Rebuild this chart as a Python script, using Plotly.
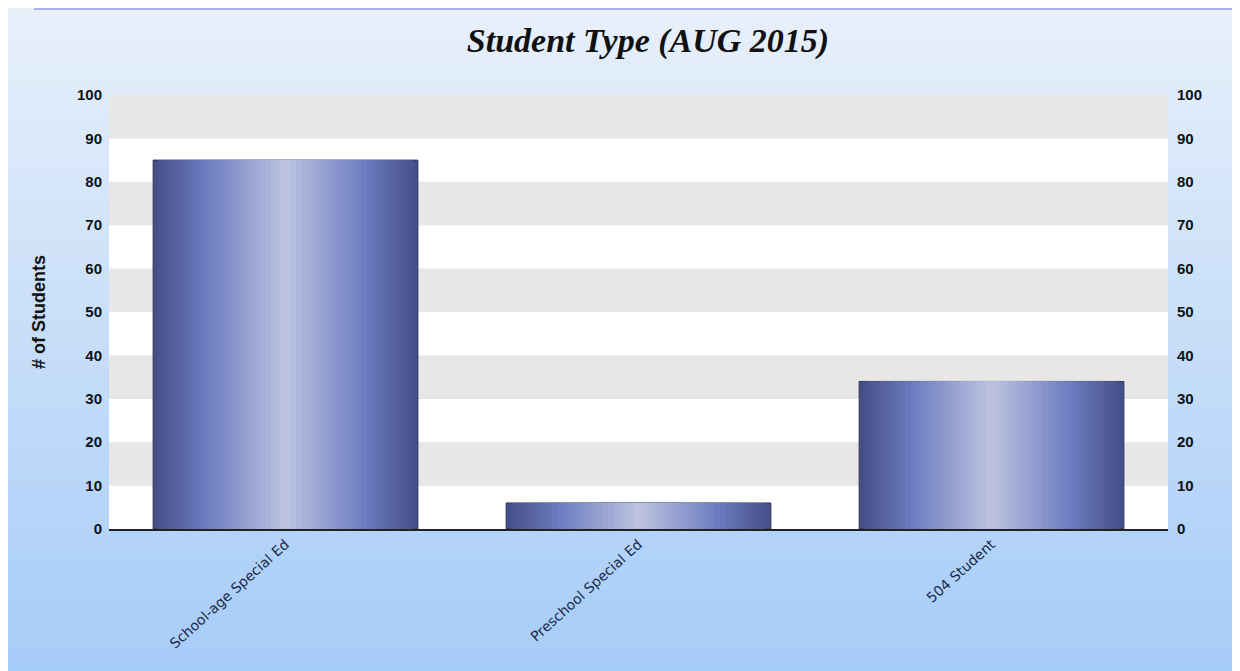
import plotly.graph_objects as go

categories = ["School-age Special Ed", "Preschool Special Ed", "504 Student"]
students = [85, 6, 34]
tick_vals = [0, 10, 20, 30, 40, 50, 60, 70, 80, 90, 100]

title_text = "Student Type (AUG 2015)"
y_title = "# of Students"


def lerp(c1, c2, t):
    return tuple(round(a + (b - a) * t) for a, b in zip(c1, c2))


def rgb(c):
    return "rgb(%d,%d,%d)" % c


fig = go.Figure()

# cylinder-like bars: stacked overlays, narrowing toward a light center
edge = (70, 80, 136)
mid = (108, 124, 192)
center = (186, 194, 224)
n_layers = 26
full_w = 0.75
for k in range(n_layers):
    t = k / (n_layers - 1)
    w = full_w * (1 - t * 0.96)
    if t < 0.4:
        col = lerp(edge, mid, t / 0.4)
    else:
        col = lerp(mid, center, (t - 0.4) / 0.6)
    fig.add_trace(go.Bar(
        x=categories, y=students, width=w,
        marker=dict(color=rgb(col),
                    line=dict(color="#2e3560" if k == 0 else rgb(col), width=1 if k == 0 else 0)),
        showlegend=False, hoverinfo="skip" if k else None,
    ))

# invisible trace for the right axis
fig.add_trace(go.Scatter(x=categories, y=students, yaxis="y2", mode="markers",
                         marker=dict(opacity=0), showlegend=False, hoverinfo="skip"))

W, H = 1232, 663
ml, mr, mt, mb = 101, 72, 87, 142
pw, ph = W - ml - mr, H - mt - mb

shapes = []
# background gradient (paper)
n_strips = 80
top_c = (232, 240, 250)
bot_c = (166, 204, 248)
y_lo, y_hi = -mb / ph, 1 + mt / ph
for i in range(n_strips):
    t0 = i / n_strips
    t1 = (i + 1) / n_strips
    col = lerp(top_c, bot_c, (t0 + t1) / 2)
    shapes.append(dict(type="rect", xref="paper", yref="paper", layer="below",
                       x0=-ml / pw - 0.01, x1=1 + mr / pw + 0.01,
                       y0=y_hi - (y_hi - y_lo) * t1 - 0.002, y1=y_hi - (y_hi - y_lo) * t0,
                       fillcolor=rgb(col), line=dict(width=0)))
# alternating bands in plot area
for j in range(10):
    shapes.append(dict(type="rect", xref="paper", yref="y", layer="below",
                       x0=0, x1=1, y0=j * 10, y1=(j + 1) * 10,
                       fillcolor="#e9e7e5" if j % 2 == 1 else "#ffffff",
                       line=dict(width=0)))
# top border line
shapes.append(dict(type="line", xref="paper", yref="paper", x0=-75 / pw, x1=1 + mr / pw + 0.01,
                   y0=1 + (mt - 1) / ph, y1=1 + (mt - 1) / ph, line=dict(color="#8f9cf0", width=1.5)))

bold_ticks = ["<b>%d</b>" % v for v in tick_vals]
tickfont = dict(family="Liberation Sans", size=15, color="#111111")

fig.update_layout(
    width=W, height=H,
    margin=dict(l=ml, r=mr, t=mt, b=mb),
    paper_bgcolor="#dbe8f8",
    plot_bgcolor="rgba(0,0,0,0)",
    barmode="overlay",
    shapes=shapes,
    title=dict(text="<b><i>" + title_text + "</i></b>", xref="container",
               x=(648 - 8) / W, xanchor="center",
               y=1 - 32 / H, yanchor="middle",
               font=dict(family="Liberation Serif", size=34, color="#111111")),
    xaxis=dict(tickangle=-42, showgrid=False, showline=True, linecolor="#222222",
               linewidth=1.5, ticks="", tickfont=dict(family="DejaVu Sans", size=14, color="#1a2a4a"),
               zeroline=False),
    yaxis=dict(range=[0, 100], tickmode="array", tickvals=tick_vals, ticktext=bold_ticks,
               showgrid=False, zeroline=False, tickfont=tickfont,
               title=dict(text="<b>" + y_title + "</b>", standoff=26,
                          font=dict(family="Liberation Sans", size=18, color="#111111")),
               ticks="", ticklabelstandoff=6),
    yaxis2=dict(range=[0, 100], tickmode="array", tickvals=tick_vals, ticktext=bold_ticks,
                overlaying="y", side="right",
                showgrid=False, zeroline=False, ticks="", tickfont=tickfont,
                ticklabelstandoff=8),
)

fig.write_html("out.html")
